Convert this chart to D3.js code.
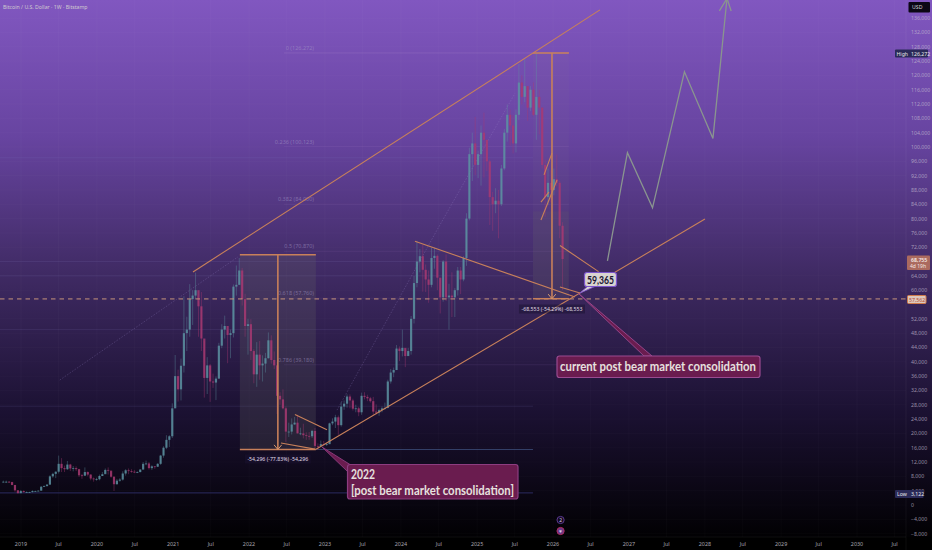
<!DOCTYPE html>
<html><head><meta charset="utf-8">
<script src="https://cdn.jsdelivr.net/npm/d3@7"></script>
<style>
html,body{margin:0;padding:0;width:932px;height:550px;overflow:hidden;background:#000}
svg{display:block}
text{font-family:"Noto Sans",sans-serif}
</style></head><body>
<svg id="c" width="932" height="550"></svg>
<script>
// Two-week candles, thousand USD, starting 2018-10-01
const closes=[6.5,6.5,6.4,5.6,4.1,3.3,3.9,
3.6,3.6,3.6,3.9,3.9,4.0,5.1,5.3,5.7,8.0,8.7,9.3,11.5,10.3,10.0,11.3,10.2,10.3,10.0,8.3,8.2,9.2,8.5,7.4,7.2,7.2,
8.1,8.6,9.8,9.6,7.9,5.8,6.8,7.1,8.8,9.7,9.5,9.3,9.1,9.2,9.9,11.5,11.6,10.3,10.8,10.7,11.5,13.8,16.0,18.2,19.2,27.0,
36.0,32.3,38.9,48.0,49.0,57.5,58.5,60.0,55.5,46.5,35.5,39.0,34.5,34.2,35.3,44.5,49.0,50.0,47.5,48.0,61.0,61.5,65.5,57.5,50.0,50.5,
43.0,36.5,42.0,39.0,39.5,41.0,46.0,40.5,39.0,30.5,29.5,27.0,20.5,20.5,22.5,23.0,20.0,20.0,19.5,19.3,19.2,20.7,16.5,16.4,17.0,16.8,
17.0,22.8,23.3,24.5,22.3,27.5,28.3,30.3,29.2,26.9,27.0,25.9,30.5,30.2,29.8,29.0,26.1,25.8,26.5,27.0,27.1,34.5,37.0,37.7,43.7,43.0,
43.9,41.6,43.0,52.0,62.0,68.0,69.5,65.7,63.0,61.5,69.0,69.6,63.5,58.0,68.0,58.0,58.5,58.0,60.0,65.5,63.0,69.0,80.0,98.0,101.0,95.0,
98.0,104.0,102.0,96.0,86.0,84.0,85.0,84.0,94.0,104.0,109.0,106.0,101.0,109.0,118.0,114.0,117.0,111.0,116.0,109.0,114.0,111.0,95.0,86.0,90.0,88.0,
91.0,90.0,78.0,68.7];
const highs=[6.8,6.8,6.7,6.5,5.6,4.2,4.2,
4.1,3.8,3.7,4.1,4.0,4.1,5.3,5.5,5.8,8.3,9.0,9.4,13.8,13.1,11.0,12.3,11.5,10.9,10.8,10.1,8.7,10.5,9.4,8.6,7.7,7.6,
8.5,9.2,10.2,10.5,9.2,8.0,7.3,7.5,9.4,10.0,10.2,10.0,9.8,9.4,10.0,12.0,12.4,12.0,11.1,10.9,11.7,14.0,16.4,19.5,19.5,28.4,
41.9,37.8,40.9,58.3,52.6,61.7,60.0,64.9,57.0,59.5,45.8,41.3,39.4,36.7,35.9,45.3,50.5,52.9,48.8,49.0,61.6,66.9,69.0,66.2,59.0,52.0,
51.9,43.5,45.5,45.8,41.8,42.5,48.2,47.4,42.9,40.0,31.5,32.3,27.5,23.0,24.2,24.6,25.2,21.6,22.7,20.3,20.4,21.0,21.5,17.2,18.0,17.9,
17.3,23.0,24.2,25.2,25.0,28.8,29.2,30.9,30.9,29.7,28.0,27.4,31.4,31.5,30.8,30.2,30.2,28.1,26.9,27.5,28.6,35.0,38.0,38.4,44.7,44.3,
49.0,43.5,43.9,52.8,64.0,73.8,71.5,72.7,67.2,65.5,71.9,71.9,70.0,63.0,68.4,70.0,61.8,65.0,60.6,66.5,66.5,69.5,81.5,99.8,104.0,108.4,
99.0,106.0,109.6,102.0,96.5,87.5,88.5,88.0,95.0,105.0,111.9,110.5,108.9,110.5,123.2,120.0,124.5,117.0,117.0,118.0,126.3,116.0,111.0,96.5,94.0,93.5,
94.0,97.9,90.5,79.0];
const lows=[6.3,6.2,6.2,5.5,3.7,3.2,3.3,
3.5,3.4,3.4,3.5,3.7,3.8,4.0,5.0,5.1,5.6,7.6,7.5,8.8,9.2,9.2,9.8,9.5,9.4,9.5,7.8,7.3,8.1,8.0,6.9,6.5,6.8,
6.9,8.1,8.9,8.5,7.6,3.9,5.7,6.5,6.8,8.2,8.6,9.0,8.9,8.9,9.1,9.9,11.1,9.9,9.8,10.1,10.6,11.2,13.2,15.6,16.2,18.7,
27.7,28.9,29.2,37.0,43.0,47.0,50.3,57.5,47.0,43.0,30.0,31.0,28.8,32.7,29.3,35.3,43.8,46.5,39.6,41.0,46.8,58.5,61.5,55.7,47.0,42.0,
40.5,34.0,33.0,35.0,34.5,37.0,40.9,39.5,38.0,25.4,28.0,26.7,17.6,19.0,19.7,22.4,20.0,19.5,18.6,18.2,18.2,18.7,15.6,15.5,16.3,16.4,
16.5,17.0,22.3,21.5,19.6,21.9,26.6,27.2,27.0,26.4,25.9,24.8,25.2,29.5,29.0,28.6,25.2,25.3,24.9,25.9,26.6,27.0,33.9,35.7,37.7,40.2,
41.5,38.5,41.8,42.0,50.7,60.8,65.0,59.6,59.5,56.5,60.8,66.0,60.0,53.5,56.8,57.0,49.0,52.5,52.5,58.5,58.9,62.5,66.8,79.5,90.5,92.2,
91.3,89.2,91.5,93.3,78.2,76.6,81.5,74.5,83.5,93.5,101.5,100.4,98.2,98.5,107.5,111.9,112.5,107.3,110.0,108.6,102.0,103.5,94.0,80.5,83.8,84.5,
86.5,89.0,74.5,60.0];
const yTicks=[136,132,128,124,120,116,112,108,104,100,96,92,88,84,80,76,72,64,60,52,48,44,40,36,32,28,24,20,16,12,8,4,0,-4,-8];
const xTickYears=[2019,2020,2021,2022,2023,2024,2025,2026,2027,2028,2029,2030];
const fibPrices=[126.272,100.123,84.0,70.87,57.76,39.18,15.5];
const fibNames=["0 (126,272)","0.236 (100,123)","0.382 (84,000)","0.5 (70,870)","0.618 (57,760)","0.786 (39,180)","1 (15,500)"];
const levelPrices=[97,68,64,49,27.6];
const floorLevels=[15.5,3.1];
const projYears=[2026.717,2026.98,2027.31,2027.73,2028.105,2028.29];
const projPrices=[68.2,98.4,83,121,102.4,141.5];

const W=932,H=550;
const svg=d3.select("#c");
const x=d3.scaleUtc().domain([new Date(Date.UTC(2019,0,1)),new Date(Date.UTC(2030,0,1))]).range([21,857]);
const y=d3.scaleLinear().domain([0,100]).range([505,147]);
const yd=v=>new Date(Date.UTC(2019,0,1)+(v-2019)*365.25*864e5);
const X=v=>x(yd(v));

const defs=svg.append("defs");
const g=defs.append("linearGradient").attr("id","bg").attr("x1",0).attr("x2",0).attr("y1",0).attr("y2",1);
[[0,"#8157c0"],[.25,"#6744a0"],[.5,"#3f2a63"],[.75,"#1b1132"],[.97,"#020104"],[1,"#000"]].forEach(s=>g.append("stop").attr("offset",s[0]).attr("stop-color",s[1]));
svg.append("rect").attr("width",W).attr("height",H).attr("fill","url(#bg)");

// grid
const vt=[];xTickYears.forEach(v=>{vt.push([new Date(Date.UTC(v,0,1)),String(v)]);vt.push([new Date(Date.UTC(v,6,1)),"Jul"]);});
svg.append("g").selectAll("line").data(vt).join("line").attr("x1",d=>x(d[0])).attr("x2",d=>x(d[0])).attr("y1",0).attr("y2",537).attr("stroke","#fff").attr("stroke-opacity",.025);
svg.append("g").selectAll("line").data(yTicks).join("line").attr("x1",0).attr("x2",906).attr("y1",d=>y(d)).attr("y2",d=>y(d)).attr("stroke","#fff").attr("stroke-opacity",.02);

// horizontal levels
const levelEnd=X(2025.737);
svg.append("g").selectAll("line").data(levelPrices).join("line").attr("x1",0).attr("x2",levelEnd).attr("y1",d=>y(d)).attr("y2",d=>y(d)).attr("stroke","#8a80c8").attr("stroke-opacity",.14);
svg.append("line").attr("x1",240).attr("x2",levelEnd).attr("y1",y(floorLevels[0])).attr("y2",y(floorLevels[0])).attr("stroke","#3c4c78").attr("stroke-opacity",.8);
svg.append("line").attr("x1",0).attr("x2",levelEnd).attr("y1",y(floorLevels[1])-1).attr("y2",y(floorLevels[1])-1).attr("stroke","#2c2c62").attr("stroke-width",1);

// fib rectangles
const fibA=[2021.88,2022.88], fibB=[2025.737,2026.21], fibBLow=[2025.737,2026.21];
svg.append("rect").attr("x",X(fibA[0])).attr("width",X(fibA[1])-X(fibA[0])).attr("y",y(69.9)).attr("height",y(15.5)-y(69.9)).attr("fill","#666").attr("fill-opacity",.24);
svg.append("rect").attr("x",X(fibB[0])).attr("width",X(fibB[1])-X(fibB[0])).attr("y",y(126.272)).attr("height",y(57.6)-y(126.272)).attr("fill","#8a8a8a").attr("fill-opacity",.06);
svg.append("rect").attr("x",X(fibBLow[0])).attr("width",X(fibBLow[1])-X(fibBLow[0])).attr("y",y(82)).attr("height",y(57.6)-y(82)).attr("fill","#666").attr("fill-opacity",.15);
svg.append("line").attr("x1",284).attr("x2",X(fibB[1])).attr("y1",y(126.272)).attr("y2",y(126.272)).attr("stroke","#b08ad0").attr("stroke-opacity",.25);
svg.append("g").selectAll("line").data(fibPrices.slice(1,6)).join("line").attr("x1",284).attr("x2",X(fibB[1])).attr("y1",d=>y(d)).attr("y2",d=>y(d)).attr("stroke","#b08ad0").attr("stroke-opacity",.1);
svg.append("g").selectAll("text").data(fibNames.slice(0,6)).join("text").attr("x",314).attr("y",(d,i)=>y(fibPrices[i])-3).attr("text-anchor","end").attr("font-size",5.5).attr("fill","#a89cc8").attr("fill-opacity",.55).text(d=>d);

// dotted regressions
const dotA=[[2019.51,34.9],[2021.855,69.3]], dotB=[[2023.158,26.5],[2024.474,76.8],[2025.5,115]];
const ln=d3.line().x(d=>X(d[0])).y(d=>y(d[1]));
[dotA,dotB].forEach(p=>svg.append("path").attr("d",ln(p)).attr("fill","none").attr("stroke","#9a86c8").attr("stroke-opacity",.35).attr("stroke-width",.8).attr("stroke-dasharray","1.5,1.5"));

// candles
const start=Date.UTC(2018,9,1);
const candles=d3.zip(closes,highs,lows).map((d,i)=>({t:new Date(start+(i*14+7)*864e5),o:i?closes[i-1]:d[0],c:d[0],h:d[1],l:d[2]}));
const up="#5d93a2",dn="#a93a72";
const cg=svg.append("g");
cg.selectAll("line").data(candles).join("line").attr("x1",d=>x(d.t)).attr("x2",d=>x(d.t)).attr("y1",d=>y(d.h)).attr("y2",d=>y(d.l)).attr("stroke",d=>d.c>=d.o?up:dn).attr("stroke-opacity",.45).attr("stroke-width",.9);
cg.selectAll("rect").data(candles).join("rect").attr("x",d=>x(d.t)-1.1).attr("width",2.2).attr("y",d=>y(Math.max(d.o,d.c))).attr("height",d=>Math.max(.8,Math.abs(y(d.o)-y(d.c)))).attr("fill",d=>d.c>=d.o?up:dn).attr("fill-opacity",.8);

// dashed price line
const lastLevel=57.562;
svg.append("line").attr("x1",0).attr("x2",907).attr("y1",y(lastLevel)).attr("y2",y(lastLevel)).attr("stroke","#c8957c").attr("stroke-width",1).attr("stroke-dasharray","4.5,4");

// orange drawings
const orange="#c8805a";
const segs=[
 [[2021.263,65.1],[2026.618,138.3]],
 [[2022.882,15.6],[2028.0,79.9]],
 [[2024.184,73.7],[2026.29,58.1]],
 [[2026.092,72.5],[2026.6,65.2]],
 [[2026.092,60.9],[2026.355,59.2]],
 [[2022.605,25.3],[2023.026,21]],
 [[2022.421,17.3],[2022.868,15.6]],
 [[2025.882,92.2],[2025.987,98.3]],
 [[2025.842,79.6],[2026.053,90.8]],
 [[2025.842,84.6],[2025.947,87.4]],
];
svg.append("g").selectAll("path").data(segs).join("path").attr("d",ln).attr("fill","none").attr("stroke",orange).attr("stroke-width",1.1);
const thick=[
 [[fibA[0],69.9],[fibA[1],69.9]],
 [[fibA[0],15.5],[fibA[1],15.5]],
 [[2022.38,69.9],[2022.38,15.5]],
 [[fibB[0],126.272],[fibB[1],126.272]],
 [[fibB[0],57.6],[fibB[1],57.6]],
 [[2025.987,126.272],[2025.987,57.6]],
];
svg.append("g").selectAll("path").data(thick).join("path").attr("d",ln).attr("fill","none").attr("stroke",orange).attr("stroke-width",1.6);
[[2022.38,15.5],[2025.987,57.6]].forEach(a=>{
 svg.append("path").attr("d",ln([[a[0]-.05,a[1]+1.3],[a[0],a[1]],[a[0]+.05,a[1]+1.3]])).attr("fill","none").attr("stroke","#d89a70").attr("stroke-width",1);
});

// projection
const proj=d3.zip(projYears,projPrices);
svg.append("path").attr("d",ln(proj)).attr("fill","none").attr("stroke","#8a958f").attr("stroke-width",1.3);
svg.append("path").attr("d",ln([[2028.19,138],[2028.29,141.5],[2028.345,138]])).attr("fill","none").attr("stroke","#8a958f").attr("stroke-width",1.3);

// measure labels
function measure(cx,cy,t){
 const s=svg.append("g");
 s.append("rect").attr("x",cx-33).attr("y",cy-4.5).attr("width",66).attr("height",9).attr("fill","#1a1230").attr("fill-opacity",.5);
 s.append("text").attr("x",cx).attr("y",cy+2).attr("text-anchor","middle").attr("font-size",5.2).attr("fill","#e0dce8").text(t);
}
measure(X(2022.38),459,"-54,296 (-77.83%) -54,296");
measure(X(2025.987),309,"-68,553 (-54.29%) -68,553");

// callouts
const face='Lato,"Noto Sans",sans-serif';
function box(cfg){
 const s=svg.append("g");
 s.append("path").attr("d",`M${cfg.tip[0]},${cfg.tip[1]}L${cfg.base[0]},${cfg.base[1]}L${cfg.base[2]},${cfg.base[3]}Z`).attr("fill",cfg.fill).attr("stroke",cfg.stroke).attr("stroke-width",.9);
 s.append("rect").attr("x",cfg.x).attr("y",cfg.y).attr("width",cfg.w).attr("height",cfg.h).attr("rx",2.5).attr("fill",cfg.fill).attr("stroke",cfg.stroke).attr("stroke-width",1.2);
 cfg.lines.forEach((t,i)=>{
  const tx=s.append("text").attr("x",cfg.tx).attr("y",cfg.ty+i*16).attr("text-anchor",cfg.anchor||"start").attr("font-weight",700).attr("font-size",cfg.fs).attr("fill",cfg.color).style("font-family",face).text(t);
  if(cfg.fit&&cfg.fit[i]) tx.attr("textLength",cfg.fit[i]).attr("lengthAdjust","spacingAndGlyphs");
 });
}
box({x:347.5,y:464.5,w:170.5,h:34.5,tip:[322,447],base:[347,471,350,464.5],fill:"#6a1c4f",stroke:"#8d3d80",lines:["2022","[post bear market consolidation]"],fit:[24,163],tx:351,ty:479,fs:12.5,color:"#e6e0de"});
box({x:557,y:356,w:203,h:21.5,tip:[578,293],base:[644,356,652,356],fill:"#6a1c4f",stroke:"#9a4a90",lines:["current post bear market consolidation"],fit:[196],tx:560,ty:371,fs:12.5,color:"#e6e0de"});
box({x:584.5,y:272.5,w:32,h:14,tip:[580,293],base:[588,286,596,286],fill:"#d8d4d0",stroke:"#7c55cc",lines:["59,365"],fit:[27],tx:587,ty:284,fs:12,color:"#1a1530"});

// header
svg.append("text").attr("x",3).attr("y",9).attr("font-size",5.2).attr("fill","#d0cad0").text("Bitcoin / U.S. Dollar · 1W · Bitstamp");

// axes
svg.append("rect").attr("x",0).attr("y",537).attr("width",W).attr("height",13).attr("fill","#000").attr("fill-opacity",.6);
svg.append("line").attr("x1",0).attr("x2",906).attr("y1",537).attr("y2",537).attr("stroke","#fff").attr("stroke-opacity",.06);
svg.append("line").attr("x1",906).attr("x2",906).attr("y1",0).attr("y2",550).attr("stroke","#fff").attr("stroke-opacity",.05);
svg.append("g").selectAll("text").data(vt).join("text").attr("x",d=>x(d[0])).attr("y",546).attr("text-anchor","middle").attr("font-size",5.4).attr("fill","#a8a4b0").text(d=>d[1]);
const fmt=d3.format(",");
svg.append("g").selectAll("text").data(yTicks).join("text").attr("x",911).attr("y",d=>y(d)+2).attr("font-size",5.2).attr("fill","#c4bcd0").attr("fill-opacity",.75).text(d=>fmt(d*1000));

function tag(xx,yy,w,h,fill,stroke,items){
 const s=svg.append("g");
 s.append("rect").attr("x",xx).attr("y",yy).attr("width",w).attr("height",h).attr("rx",1).attr("fill",fill).attr("stroke",stroke||"none");
 items.forEach(t=>s.append("text").attr("x",t[0]).attr("y",t[1]).attr("font-size",t[5]||5.2).attr("font-weight",t[3]||400).attr("fill",t[2]).text(t[4]));
}
tag(908.5,2,21.5,10.5,"#0b0714",null,[[912,9,"#d8d8d8",400,"USD"]]);
tag(895,49.5,33,8,"#2a2a58",null,[[896.5,55.5,"#e8e8e8",400,"High"],[911,55.5,"#e8e8e8",400,"126,272"]]);
tag(895,490,28.5,8,"#2a2a58",null,[[897,496,"#e8e8e8",400,"Low"],[911,496,"#e8e8e8",400,"3,122"]]);
tag(907,255.5,23,14.5,"#ab6a5f",null,[[911,261.5,"#f4e8e4",600,"68,755"],[910,268,"#f4e8e4",400,"4d 19h",5]]);
tag(907.5,295.5,18.5,8,"#dcc8bc","#d07a4a",[[909,301.7,"#b84a30",400,"57,562"]]);

// events
const ev=[[520,"#5a3a90","2"],[531,"#b02a60","♥"]];
ev.forEach((e,i)=>{
 svg.append("circle").attr("cx",X(2026.1)).attr("cy",e[0]).attr("r",3.6).attr("fill",i?"#6a3a8a":"#14081e").attr("stroke",e[1]).attr("stroke-width",1);
 svg.append("text").attr("x",X(2026.1)).attr("y",e[0]+1.8).attr("text-anchor","middle").attr("font-size",5).attr("fill","#d8c8e8").text(e[2]);
});
</script>
</body></html>
